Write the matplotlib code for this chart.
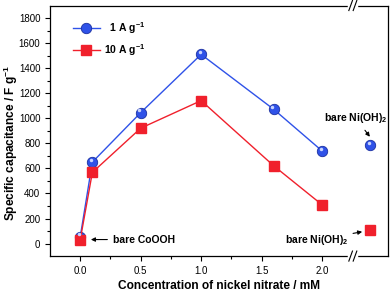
import numpy as np
import matplotlib.pyplot as plt
from matplotlib.ticker import FixedLocator

plt.rcParams['font.family'] = ['Liberation Sans', 'DejaVu Sans']
plt.rcParams['mathtext.fontset'] = 'custom'
plt.rcParams['mathtext.rm'] = 'Liberation Sans:bold'
plt.rcParams['mathtext.it'] = 'Liberation Sans:bold'
plt.rcParams['mathtext.bf'] = 'Liberation Sans:bold'

# data
conc = [0.0, 0.1, 0.5, 1.0, 1.6, 2.0]
cap_1A = [55, 650, 1045, 1510, 1072, 740]
cap_10A = [32, 568, 921, 1141, 621, 310]
bare_x = 2.40
bare_1A = 783
bare_10A = 106

xticks = [0.0, 0.5, 1.0, 1.5, 2.0]
xticklabels = ['0.0', '0.5', '1.0', '1.5', '2.0']
yticks = list(range(0, 1801, 200))

blue = '#2f52e8'
red = '#f0202c'

fig = plt.figure(figsize=(3.91, 2.92), dpi=100)
ax = fig.add_axes([0.128, 0.123, 0.864, 0.858])

ax.plot(conc, cap_1A, '-', color=blue, lw=1.0, marker='o', ms=7.5,
        mfc=blue, mec='#1a2fa0', mew=0.6, label='  1 A g$^{-1}$', zorder=3)
ax.plot(conc, cap_10A, '-', color=red, lw=1.0, marker='s', ms=6.5,
        mfc=red, mec=red, label='10 A g$^{-1}$', zorder=4)
ax.plot([bare_x], [bare_1A], 'o', ms=7.5, mfc=blue, mec='#1a2fa0', mew=0.6, zorder=3)
ax.plot([bare_x], [bare_10A], 's', ms=6.5, mfc=red, mec=red, zorder=4)

# little highlight on the spheres
hx = conc + [bare_x]
hy = cap_1A + [bare_1A]
ax.plot(np.array(hx) - 0.012, np.array(hy) + 18, 'o', ms=2.5, mfc='#c8d4ff',
        mec='none', zorder=5)

ax.set_xlim(-0.25, 2.545)
ax.set_ylim(-100, 1900)
ax.xaxis.set_major_locator(FixedLocator(xticks))
ax.set_xticklabels(xticklabels)
ax.xaxis.set_minor_locator(FixedLocator([0.25, 0.75, 1.25, 1.75]))
ax.yaxis.set_major_locator(FixedLocator(yticks))
ax.yaxis.set_minor_locator(FixedLocator(list(range(100, 1900, 200))))
ax.tick_params(which='major', length=3.5, width=0.8, labelsize=7, direction='out')
ax.tick_params(which='minor', length=2, width=0.8, direction='out')
for s in ax.spines.values():
    s.set_linewidth(0.9)

ax.set_xlabel('Concentration of nickel nitrate / mM', fontsize=8.6, fontweight='bold')
ax.set_ylabel('Specific capacitance / F g$^{-1}$', fontsize=8.6, fontweight='bold')
ax.xaxis.set_label_coords(0.5, -0.094)
ax.yaxis.set_label_coords(-0.088, 0.45)

leg = ax.legend(loc='upper left', bbox_to_anchor=(0.04, 0.98), frameon=False,
                prop={'size': 7.5, 'weight': 'bold'}, handlelength=2.6,
                handletextpad=0.4, labelspacing=0.6)

# axis break marks
bx = 2.255
trans = ax.get_xaxis_transform()
for yb in (0.0, 1.0):
    ax.plot([bx - 0.03, bx + 0.03], [yb, yb], color='white', lw=2.5,
            transform=trans, clip_on=False, zorder=6)
    for dx in (-0.018, 0.018):
        ax.plot([bx + dx - 0.015, bx + dx + 0.015], [yb - 0.02, yb + 0.02],
                color='black', lw=0.8, transform=trans, clip_on=False, zorder=7)

ann = dict(fontsize=7.5, fontweight='bold')
ax.annotate('bare CoOOH', xy=(0.065, 32), xytext=(0.27, 32), va='center', ha='left',
            arrowprops=dict(arrowstyle='-|>', color='black', lw=0.8, mutation_scale=6),
            **ann)
ax.annotate('bare Ni(OH)$_2$', xy=(2.41, 835), xytext=(2.28, 1000), va='center', ha='center',
            arrowprops=dict(arrowstyle='-|>', color='black', lw=0.8, mutation_scale=6,
                            shrinkA=2),
            **ann)
ax.annotate('bare Ni(OH)$_2$', xy=(2.355, 98), xytext=(1.96, 30), va='center', ha='center',
            arrowprops=dict(arrowstyle='-|>', color='black', lw=0.8, mutation_scale=6,
                            shrinkA=1),
            **ann)

fig.savefig('out.png', dpi=100)
